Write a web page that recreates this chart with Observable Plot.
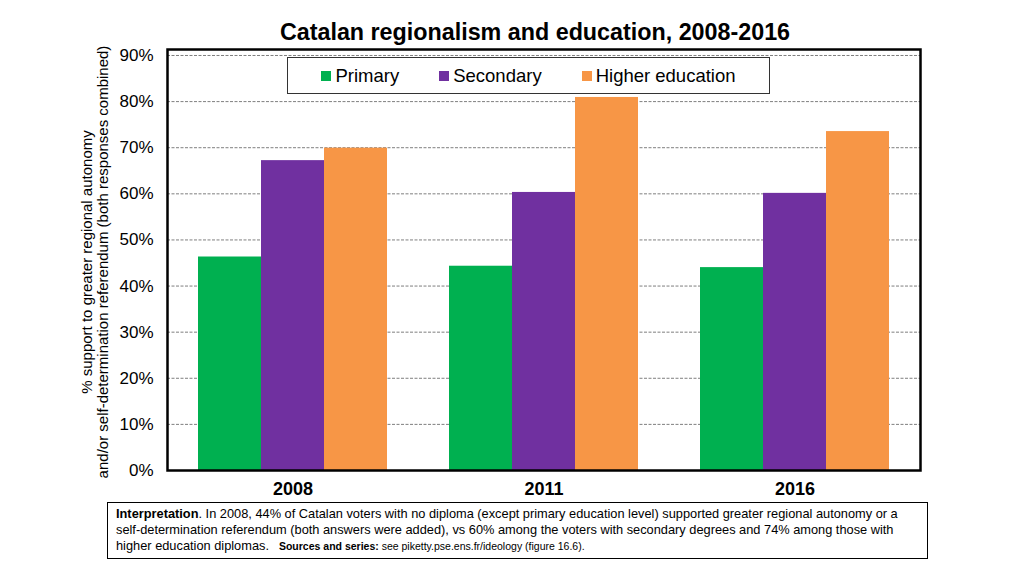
<!DOCTYPE html>
<html><head><meta charset="utf-8">
<script src="https://cdn.jsdelivr.net/npm/d3@7"></script>
<script src="https://cdn.jsdelivr.net/npm/@observablehq/plot@0.6"></script>
<style>
body{margin:0;background:#fff;font-family:"Liberation Sans",Arial,sans-serif;}
#wrap{position:relative;width:1024px;height:576px;overflow:hidden;background:#fff}
#title{position:absolute;left:0;width:1070px;top:19px;text-align:center;font-size:23.3px;font-weight:bold;color:#000}
#back,#front,#frameLayer{position:absolute;left:0;top:40px}
#ylabel{position:absolute;left:-145px;top:246px;width:480px;height:32px;text-align:center;font-size:15px;line-height:16px;transform:rotate(-90deg);transform-origin:center;color:#000;white-space:nowrap}
#legend{position:absolute;left:287px;top:57px;width:481px;height:35px;border:1px solid #333;background:#fff;display:flex;align-items:center;justify-content:center;gap:40px;font-size:18.5px;color:#000}
#legend .it{display:flex;align-items:center}
#legend .sw{width:10px;height:10px;margin-right:4px}
#caption{position:absolute;left:107px;top:502px;width:803px;height:49px;border:1.5px solid #000;padding:3px 8px;font-size:12.8px;line-height:16px;color:#000}
#caption .ln{white-space:nowrap}
#caption .src{font-size:10.5px;margin-left:10px}
#front svg g[aria-label="fx-axis tick label"] text{font-weight:bold;font-size:18px}
</style></head><body>
<div id="wrap">
<div id="title">Catalan regionalism and education, 2008-2016</div>
<div id="back"></div>
<div id="front"></div>
<div id="frameLayer"></div>
<div id="ylabel">% support to greater regional autonomy<br>and/or self-determination referendum (both responses combined)</div>
<div id="legend"></div>
<div id="caption">
<div class="ln"><b>Interpretation</b><span>. In 2008, 44% of Catalan voters with no diploma (except primary education level) supported greater regional autonomy or a</span></div>
<div class="ln">self-determination referendum (both answers were added), vs 60% among the voters with secondary degrees and 74% among those with</div>
<div class="ln"><span>higher education diplomas.</span><span class="src"><b>Sources and series:</b><span> see piketty.pse.ens.fr/ideology (figure 16.6).</span></span></div>
</div>
</div>
<script>
const years = ["2008", "2011", "2016"];
const series = ["Primary", "Secondary", "Higher education"];
const primary = [0.463, 0.443, 0.440];
const secondary = [0.672, 0.603, 0.601];
const higher = [0.699, 0.809, 0.735];
const colors = ["#00B050", "#7030A0", "#F79646"];
const yTicks = [0, 0.1, 0.2, 0.3, 0.4, 0.5, 0.6, 0.7, 0.8, 0.9];

const data = years.flatMap((yr, i) => [
  {year: yr, series: series[0], value: primary[i]},
  {year: yr, series: series[1], value: secondary[i]},
  {year: yr, series: series[2], value: higher[i]}
]);

const common = {
  width: 1024,
  height: 460,
  marginTop: 9,
  marginBottom: 30,
  marginLeft: 167,
  marginRight: 104,
  style: {fontFamily: "'Liberation Sans', Arial, sans-serif", fontSize: "17px", color: "#000", background: "transparent", overflow: "visible"}
};
const yDomain = [0, 0.913];

// Layer 1: y axis and horizontal gridlines across the whole plot area
const backPlot = Plot.plot({
  ...common,
  y: {domain: yDomain, ticks: yTicks, tickFormat: d3.format(".0%"), tickSize: 0, tickPadding: 14, label: null},
  marks: [
    Plot.ruleY(yTicks.slice(1), {stroke: "#7f7f7f", strokeDasharray: "3,1.5", strokeWidth: 1})
  ]
});
document.getElementById("back").appendChild(backPlot);

// Layer 2: grouped bars and year axis
const barPlot = Plot.plot({
  ...common,
  fx: {domain: years, paddingInner: 0.247, paddingOuter: 0.1235, label: null, axis: "bottom", tickSize: 0, tickPadding: 12},
  x: {domain: series, padding: 0, axis: null},
  y: {domain: yDomain, axis: null},
  color: {domain: series, range: colors},
  marks: [
    Plot.barY(data, {fx: "year", x: "series", y: "value", fill: "series"})
  ]
});
document.getElementById("front").appendChild(barPlot);

// Layer 3: plot-area frame
const framePlot = Plot.plot({
  ...common,
  y: {domain: yDomain, axis: null},
  marks: [
    Plot.frame({stroke: "#000", strokeWidth: 2.5})
  ]
});
document.getElementById("frameLayer").appendChild(framePlot);

const legend = document.getElementById("legend");
series.forEach((s, i) => {
  const it = document.createElement("div");
  it.className = "it";
  it.innerHTML = `<span class="sw" style="background:${colors[i]}"></span><span>${s}</span>`;
  legend.appendChild(it);
});
</script>
</body></html>
